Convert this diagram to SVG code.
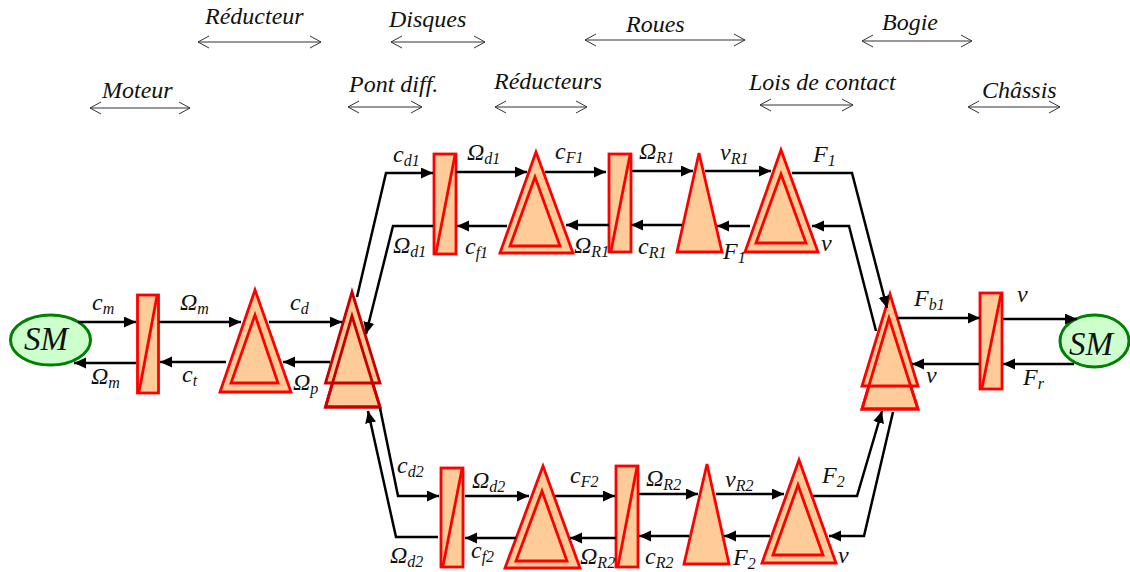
<svg xmlns="http://www.w3.org/2000/svg" width="1130" height="572" viewBox="0 0 1130 572">
<style>
text{font-family:"Liberation Serif","Times New Roman",serif;font-style:italic;fill:#111}
.h{font-size:24px}
.l{font-size:24px}
.s{font-size:16px}
.sm{font-size:33px}
.n{fill:#ffcc99;stroke:#ff0000;stroke-width:2.800;stroke-linejoin:miter}
.d{fill:#ffcc99;stroke:#c80000;stroke-width:2.800}
.e{fill:#ccffcc;stroke:#008000;stroke-width:3}
.c{fill:none;stroke:#000;stroke-width:2.500;marker-end:url(#a)}
.r{fill:none;stroke:#333;stroke-width:1;marker-start:url(#o);marker-end:url(#o)}
</style>
<defs>
<marker id="a" markerUnits="userSpaceOnUse" markerWidth="13" markerHeight="12" refX="12" refY="5.500" orient="auto"><path d="M0 0L12 5.500L0 11Z" fill="#000"/></marker>
<marker id="o" markerUnits="userSpaceOnUse" markerWidth="14" markerHeight="16" refX="12" refY="7" orient="auto-start-reverse"><path d="M1 1L12 7L1 13" fill="none" stroke="#333" stroke-width="1"/></marker>
</defs>
<g id="moteur">
<ellipse class="e" cx="50.500" cy="340" rx="40" ry="25"/>
<text class="sm" x="24" y="350">SM</text>
</g>
<g id="conv-m"><rect class="n" x="137.500" y="295" width="21" height="98"/><path class="n" d="M157 296L139 392"/></g>
<g id="red-m"><path class="n" d="M255 290L220 392H291Z"/><path class="n" d="M255 315L231 383H278Z"/></g>
<g id="pont"><path class="d" d="M352 316L325.500 407H380Z"/><path class="d" d="M352 292L325.500 383H380Z"/><path class="d" style="fill:none" d="M352 316L325.500 407H380Z"/></g>
<g id="conv-d1"><rect class="n" x="434" y="154" width="22" height="100"/><path class="n" d="M455 155L436 253"/></g>
<g id="red-d1"><path class="n" d="M536 152L500 253H573Z"/><path class="n" d="M535 177L510 246H560Z"/></g>
<g id="conv-r1"><rect class="n" x="609" y="154" width="22" height="98"/><path class="n" d="M630 155L611 251"/></g>
<g id="roue1"><path class="n" d="M699 153L677 252H722Z"/></g>
<g id="contact1"><path class="n" d="M781 150L745 252H818Z"/><path class="n" d="M781 174L756 243H806Z"/></g>
<g id="conv-d2"><rect class="n" x="441" y="468" width="22" height="99"/><path class="n" d="M462 469L443 566"/></g>
<g id="red-d2"><path class="n" d="M543 466L505 568H580Z"/><path class="n" d="M542 491L516 561H567Z"/></g>
<g id="conv-r2"><rect class="n" x="616" y="466" width="22" height="101"/><path class="n" d="M637 467L618 566"/></g>
<g id="roue2"><path class="n" d="M707 464L684 564H729Z"/></g>
<g id="contact2"><path class="n" d="M799 460L762 563H836Z"/><path class="n" d="M798 485L773 555H823Z"/></g>
<g id="bogie"><path class="n" d="M889 318L862 409H918Z"/><path class="n" d="M890 294L862 386H918Z"/><path class="n" style="fill:none" d="M889 318L862 409H918Z"/></g>
<g id="conv-b"><rect class="n" x="980" y="293" width="22" height="96"/><path class="n" d="M1001 294L982 388"/></g>
<g id="chassis">
<ellipse class="e" cx="1094.500" cy="341" rx="34.500" ry="26"/>
<text class="sm" x="1069" y="355">SM</text>
</g>
<g id="connectors">
<path class="c" d="M78 322H136"/>
<path class="c" d="M136 363H74"/>
<path class="c" d="M159 322H241"/>
<path class="c" d="M226 362H160"/>
<path class="c" d="M269 322H342"/>
<path class="c" d="M330 362H283"/>
<path class="c" d="M357 297L386 173H433"/>
<path class="c" d="M433 226H393L366 334"/>
<path class="c" d="M456 172H527"/>
<path class="c" d="M545 172H606"/>
<path class="c" d="M632 171H693"/>
<path class="c" d="M705 171H771"/>
<path class="c" d="M507 226H457"/>
<path class="c" d="M609 225H566"/>
<path class="c" d="M682 225H631"/>
<path class="c" d="M750 226H717"/>
<path class="c" d="M792 173H852L887 308"/>
<path class="c" d="M876 331L849 226H812"/>
<path class="c" d="M380 408L398 496H439"/>
<path class="c" d="M438 537H396L368 411"/>
<path class="c" d="M465 496H529"/>
<path class="c" d="M555 496H615"/>
<path class="c" d="M639 494H698"/>
<path class="c" d="M716 494H784"/>
<path class="c" d="M516 538H465"/>
<path class="c" d="M616 538H570"/>
<path class="c" d="M689 536H639"/>
<path class="c" d="M770 536H724"/>
<path class="c" d="M813 496H857L882 411"/>
<path class="c" d="M893 412L864 536H829"/>
<path class="c" d="M897 318H980"/>
<path class="c" d="M1003 319H1077"/>
<path class="c" d="M1074 364H1003"/>
<path class="c" d="M979 364H912"/>
<path class="r" d="M90 108H190"/>
<path class="r" d="M198 42H321"/>
<path class="r" d="M391 42H485"/>
<path class="r" d="M348 107H422"/>
<path class="r" d="M495 107H587"/>
<path class="r" d="M585 40H745"/>
<path class="r" d="M760 105H853"/>
<path class="r" d="M862 41H972"/>
<path class="r" d="M968 107H1060"/>
</g>
<g id="labels">
<text class="h" x="205" y="24">Réducteur</text>
<text class="h" x="389" y="27">Disques</text>
<text class="h" x="102" y="98">Moteur</text>
<text class="h" x="349" y="92">Pont diff.</text>
<text class="h" x="494" y="89">Réducteurs</text>
<text class="h" x="626" y="32">Roues</text>
<text class="h" x="882" y="30">Bogie</text>
<text class="h" x="749" y="90">Lois de contact</text>
<text class="h" x="982" y="98">Châssis</text>
<text class="l" x="92" y="310">c<tspan class="s" dy="4">m</tspan></text>
<text class="l" x="180" y="310">Ω<tspan class="s" dy="4">m</tspan></text>
<text class="l" x="290" y="310">c<tspan class="s" dy="4">d</tspan></text>
<text class="l" x="91" y="384">Ω<tspan class="s" dy="4">m</tspan></text>
<text class="l" x="182" y="382">c<tspan class="s" dy="4">t</tspan></text>
<text class="l" x="293" y="390">Ω<tspan class="s" dy="4">p</tspan></text>
<text class="l" x="393" y="162">c<tspan class="s" dy="4">d1</tspan></text>
<text class="l" x="467" y="160">Ω<tspan class="s" dy="4">d1</tspan></text>
<text class="l" x="555" y="159">c<tspan class="s" dy="4">F1</tspan></text>
<text class="l" x="639" y="159">Ω<tspan class="s" dy="4">R1</tspan></text>
<text class="l" x="720" y="160">v<tspan class="s" dy="4">R1</tspan></text>
<text class="l" x="813" y="162">F<tspan class="s" dy="4">1</tspan></text>
<text class="l" x="393" y="253">Ω<tspan class="s" dy="4">d1</tspan></text>
<text class="l" x="465" y="254">c<tspan class="s" dy="4">f1</tspan></text>
<text class="l" x="574" y="253">Ω<tspan class="s" dy="4">R1</tspan></text>
<text class="l" x="638" y="254">c<tspan class="s" dy="4">R1</tspan></text>
<text class="l" x="723" y="259">F<tspan class="s" dy="4">1</tspan></text>
<text class="l" x="821" y="251">v</text>
<text class="l" x="914" y="306">F<tspan class="s" dy="4">b1</tspan></text>
<text class="l" x="1017" y="302">v</text>
<text class="l" x="926" y="383">v</text>
<text class="l" x="1023" y="385">F<tspan class="s" dy="4">r</tspan></text>
<text class="l" x="397" y="473">c<tspan class="s" dy="4">d2</tspan></text>
<text class="l" x="472" y="488">Ω<tspan class="s" dy="4">d2</tspan></text>
<text class="l" x="570" y="483">c<tspan class="s" dy="4">F2</tspan></text>
<text class="l" x="646" y="486">Ω<tspan class="s" dy="4">R2</tspan></text>
<text class="l" x="725" y="487">v<tspan class="s" dy="4">R2</tspan></text>
<text class="l" x="822" y="483">F<tspan class="s" dy="4">2</tspan></text>
<text class="l" x="390" y="563">Ω<tspan class="s" dy="4">d2</tspan></text>
<text class="l" x="471" y="558">c<tspan class="s" dy="4">f2</tspan></text>
<text class="l" x="580" y="564">Ω<tspan class="s" dy="4">R2</tspan></text>
<text class="l" x="645" y="564">c<tspan class="s" dy="4">R2</tspan></text>
<text class="l" x="733" y="565">F<tspan class="s" dy="4">2</tspan></text>
<text class="l" x="838" y="563">v</text>
</g>
</svg>
